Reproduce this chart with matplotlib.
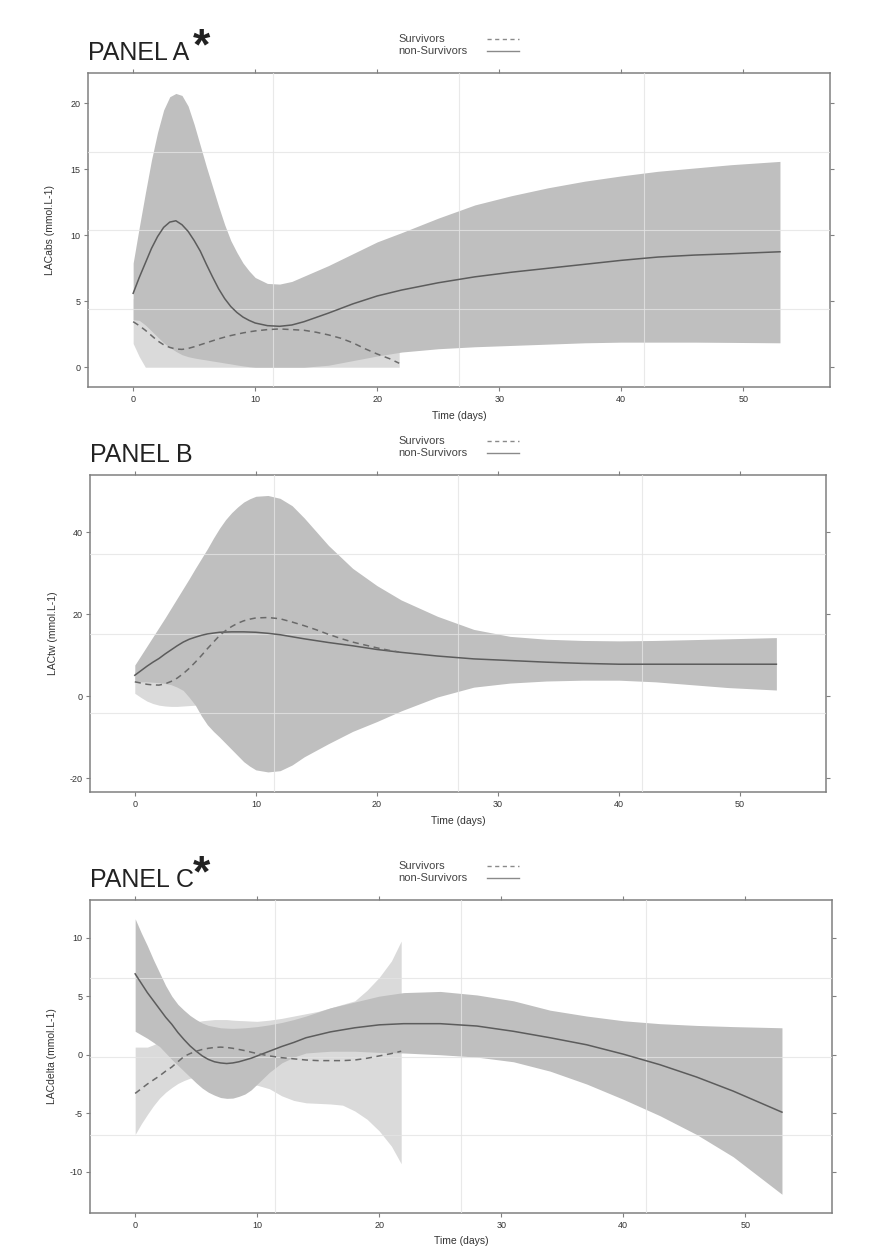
import matplotlib
matplotlib.use('Agg')
import matplotlib.pyplot as plt
from matplotlib.lines import Line2D

plt.rcParams['font.family'] = ['Liberation Sans', 'DejaVu Sans']
plt.rcParams['axes.unicode_minus'] = False

# ---- data ----
days_ns = [0, 0.5, 1, 1.5, 2, 2.5, 3, 3.5, 4, 4.5, 5, 5.5, 6, 6.5, 7, 7.5, 8, 8.5, 9, 9.5, 10,
           11, 12, 13, 14, 16, 18, 20, 22, 25, 28, 31, 34, 37, 40, 43, 46, 49, 53]
days_s = [0, 0.5, 1, 1.5, 2, 2.5, 3, 3.5, 4, 4.5, 5, 5.5, 6, 6.5, 7, 7.5, 8, 8.5, 9, 9.5, 10,
          11, 12, 13, 14, 15, 16, 17, 18, 19, 20, 21, 21.8]

# panel A : LACabs
a_ns_mean = [5.6, 6.8, 7.9, 9.0, 9.9, 10.6, 11.0, 11.1, 10.8, 10.3, 9.6, 8.8, 7.8, 6.85, 5.95,
             5.2, 4.6, 4.15, 3.8, 3.55, 3.35,
             3.15, 3.1, 3.2, 3.45, 4.1, 4.8, 5.4, 5.85, 6.4, 6.85, 7.2, 7.5, 7.8, 8.1, 8.35, 8.5,
             8.6, 8.75]
a_ns_up = [7.9, 10.6, 13.2, 15.7, 17.8, 19.5, 20.5, 20.75, 20.6, 19.8, 18.4, 16.8, 15.2, 13.7,
           12.2, 10.8, 9.6, 8.7, 7.9, 7.3, 6.8,
           6.35, 6.3, 6.5, 6.9, 7.7, 8.6, 9.5, 10.2, 11.3, 12.3, 13.0, 13.6, 14.1, 14.5, 14.85,
           15.1, 15.35, 15.6]
a_ns_lo = [3.6, 3.55, 3.2, 2.75, 2.3, 1.85, 1.5, 1.2, 0.95, 0.8, 0.7, 0.62, 0.55, 0.47, 0.4,
           0.32, 0.25, 0.17, 0.1, 0.04, 0.0,
           0.0, 0.0, 0.0, 0.0, 0.15, 0.5, 0.85, 1.15, 1.4, 1.55, 1.65, 1.75, 1.85, 1.9, 1.9,
           1.9, 1.88, 1.85]
a_s_mean = [3.45, 3.15, 2.8, 2.4, 2.0, 1.7, 1.5, 1.38, 1.35, 1.42, 1.55, 1.7, 1.85, 2.0, 2.15,
            2.28, 2.4, 2.5, 2.6, 2.68, 2.75,
            2.85, 2.9, 2.85, 2.8, 2.65, 2.45, 2.2, 1.85, 1.4, 1.0, 0.65, 0.3]
a_s_up = [5.2, 5.0, 4.8, 4.55, 4.3, 4.15, 4.0, 3.9, 3.8, 3.85, 3.9, 4.05, 4.2, 4.35, 4.5, 4.65,
          4.8, 4.9, 5.0, 5.1, 5.2,
          5.3, 5.4, 5.4, 5.3, 5.2, 5.0, 4.8, 4.5, 4.2, 3.8, 3.4, 3.0]
a_s_lo = [1.8, 0.8, 0.0, 0.0, 0.0, 0.0, 0.0, 0.0, 0.0, 0.0, 0.0, 0.0, 0.0, 0.0, 0.0, 0.0,
          0.0, 0.0, 0.0, 0.0, 0.0,
          0.0, 0.0, 0.0, 0.0, 0.0, 0.0, 0.0, 0.0, 0.0, 0.0, 0.0, 0.0]

# panel B : LACtw
b_ns_mean = [5.1, 6.2, 7.3, 8.3, 9.2, 10.3, 11.3, 12.3, 13.2, 13.9, 14.4, 14.85, 15.2, 15.4,
             15.6, 15.65, 15.7, 15.7, 15.7, 15.65, 15.6,
             15.35, 15.0, 14.5, 14.0, 13.1, 12.3, 11.4, 10.7, 9.8, 9.1, 8.7, 8.3, 8.0, 7.8, 7.8,
             7.8, 7.8, 7.8]
b_ns_up = [7.6, 9.9, 12.2, 14.5, 16.8, 19.1, 21.5, 23.9, 26.3, 28.7, 31.2, 33.6, 36.0, 38.6,
           41.0, 43.1, 44.8, 46.2, 47.4, 48.2, 48.8,
           49.0, 48.3, 46.5, 43.5, 36.8, 31.2, 27.0, 23.5, 19.5, 16.3, 14.6, 13.9, 13.6, 13.5,
           13.6, 13.8, 14.0, 14.3]
b_ns_lo = [3.5, 3.5, 3.5, 3.4, 3.3, 3.1, 2.8, 2.2, 1.4, -0.3, -2.2, -4.8, -7.0, -8.6, -10.0,
           -11.5, -13.0, -14.5, -16.0, -17.1, -18.0,
           -18.5, -18.2, -16.8, -14.8, -11.6, -8.6, -6.2, -3.6, -0.2, 2.2, 3.2, 3.7, 3.9, 3.9,
           3.5, 2.8, 2.1, 1.5]
b_s_mean = [3.5, 3.2, 2.9, 2.75, 2.7, 3.0, 3.6, 4.4, 5.5, 6.8, 8.3, 9.9, 11.6, 13.2, 14.8,
            16.0, 17.0, 17.8, 18.4, 18.8, 19.1,
            19.2, 18.9, 18.1, 17.2, 16.2, 15.1, 14.1, 13.2, 12.5, 11.8, 11.2, 10.8]
b_s_up = [6.0, 6.2, 6.5, 7.2, 8.0, 9.4, 11.0, 13.0, 15.0, 17.0, 19.0, 21.5, 24.0, 26.0, 28.0,
          29.5, 31.0, 32.0, 33.0, 33.5, 34.0,
          34.0, 33.0, 31.0, 29.0, 27.0, 25.0, 23.0, 21.5, 20.0, 19.0, 18.0, 17.5]
b_s_lo = [0.7, -0.3, -1.2, -1.8, -2.2, -2.4, -2.5, -2.5, -2.4, -2.3, -2.2, -2.35, -2.5, -2.65,
          -2.8, -2.9, -3.0, -3.0, -3.0, -3.0, -3.0,
          -2.8, -2.5, -2.0, -1.5, -1.0, -0.5, 0.0, 0.5, 1.0, 1.5, 2.0, 2.3]

# panel C : LACdelta
c_ns_mean = [6.9, 6.1, 5.3, 4.6, 3.9, 3.2, 2.6, 1.9, 1.3, 0.75, 0.3, -0.1, -0.4, -0.6, -0.7,
             -0.75, -0.7, -0.6, -0.45, -0.3, -0.1,
             0.3, 0.7, 1.05, 1.45, 1.95, 2.3, 2.55, 2.65, 2.65, 2.45, 2.0, 1.45, 0.85, 0.05,
             -0.85, -1.9, -3.1, -4.9]
c_ns_up = [11.6, 10.4, 9.3, 8.1, 7.0, 5.9, 5.0, 4.3, 3.8, 3.35, 3.0, 2.7, 2.5, 2.4, 2.3,
           2.27, 2.25, 2.27, 2.3, 2.35, 2.4,
           2.55, 2.75, 3.0, 3.3, 4.0, 4.5, 5.0, 5.3, 5.4, 5.1, 4.6, 3.8, 3.3, 2.9, 2.65, 2.5,
           2.4, 2.3]
c_ns_lo = [2.0, 1.7, 1.4, 1.05, 0.7, 0.15, -0.4, -0.9, -1.4, -1.9, -2.4, -2.85, -3.2, -3.45,
           -3.65, -3.72, -3.7, -3.55, -3.35, -3.0, -2.5,
           -1.5, -0.7, -0.2, 0.15, 0.3, 0.3, 0.2, 0.15, 0.0, -0.2, -0.6, -1.4, -2.5, -3.8,
           -5.2, -6.8, -8.7, -11.9]
c_s_mean = [-3.3, -2.9, -2.5, -2.15, -1.8, -1.4, -1.05, -0.6, -0.15, 0.1, 0.3, 0.45, 0.55,
            0.62, 0.65, 0.62, 0.55, 0.45, 0.35, 0.22, 0.1,
            -0.1, -0.25, -0.35, -0.45, -0.5, -0.5, -0.5, -0.45, -0.3, -0.1, 0.1, 0.3]
c_s_up = [0.65, 0.65, 0.65, 0.85, 1.1, 1.4, 1.7, 2.0, 2.3, 2.55, 2.8, 2.9, 2.95, 3.0, 3.0,
          3.0, 2.95, 2.92, 2.9, 2.87, 2.85,
          2.95, 3.1, 3.3, 3.5, 3.7, 4.0, 4.3, 4.6, 5.5, 6.6, 8.0, 9.7]
c_s_lo = [-6.8, -5.9, -5.1, -4.35, -3.7, -3.2, -2.8, -2.45, -2.2, -2.0, -1.9, -1.95, -2.0,
          -2.1, -2.2, -2.3, -2.4, -2.45, -2.5, -2.55, -2.6,
          -2.9, -3.5, -3.9, -4.1, -4.15, -4.2, -4.3, -4.8, -5.5, -6.5, -7.8, -9.3]

panels = [
    ('PANEL A', True, 'LACabs (mmol.L-1)', (-1.5, 22.3), [0, 5, 10, 15, 20],
     a_ns_mean, a_ns_up, a_ns_lo, a_s_mean, a_s_up, a_s_lo),
    ('PANEL B', False, 'LACtw (mmol.L-1)', (-23.4, 54.0), [-20, 0, 20, 40],
     b_ns_mean, b_ns_up, b_ns_lo, b_s_mean, b_s_up, b_s_lo),
    ('PANEL C', True, 'LACdelta (mmol.L-1)', (-13.5, 13.2), [-10, -5, 0, 5, 10],
     c_ns_mean, c_ns_up, c_ns_lo, c_s_mean, c_s_up, c_s_lo),
]

# axes boxes in pixels: left, right, top, bottom (figure is 878 x 1250)
W, H = 878, 1250
boxes = [(88, 830, 73, 387), (90, 826, 475, 792), (90, 832, 900, 1213)]

DARK = '#bfbfbf'
LIGHT = '#dadada'
FRAME = '#808080'

fig = plt.figure(figsize=(W / 100, H / 100), dpi=100)

for (title, star, ylab, ylim, yt, nm, nu, nl, sm, su, sl), (l, r, t, b) in zip(panels, boxes):
    ax = fig.add_axes([l / W, 1 - b / H, (r - l) / W, (b - t) / H])
    ax.fill_between(days_s, sl, su, color=LIGHT, lw=0, zorder=1)
    ax.fill_between(days_ns, nl, nu, color=DARK, lw=0, zorder=2)
    # faint reference grid at quarter positions
    for f in (0.25, 0.5, 0.75):
        ax.plot([f, f], [0, 1], transform=ax.transAxes, color='#e4e4e4', lw=0.8, alpha=0.8, zorder=3)
        ax.plot([0, 1], [f, f], transform=ax.transAxes, color='#e4e4e4', lw=0.8, alpha=0.8, zorder=3)
    ax.plot(days_ns, nm, color='#5c5c5c', lw=1.1, zorder=5, solid_joinstyle='round')
    ax.plot(days_s, sm, color='#6a6a6a', lw=1.1, ls=(0, (4, 3)), zorder=5)

    ax.set_xlim(-3.7, 57.1)
    ax.set_ylim(*ylim)
    ax.set_xticks([0, 10, 20, 30, 40, 50])
    ax.set_yticks(yt)
    ax.tick_params(direction='out', length=3, width=0.8, color=FRAME, labelsize=6.5,
                   labelcolor='#333333', pad=2.5, top=True, right=True)
    for s in ax.spines.values():
        s.set_color(FRAME)
        s.set_linewidth(1.1)
    ax.set_ylabel(ylab, fontsize=7.5, color='#333333')
    ax.yaxis.set_label_coords(-0.044, 0.5)
    ax.set_xlabel('Time (days)', fontsize=7.5, color='#333333')
    ax.xaxis.set_label_coords(0.5, -0.075)

    # panel title and optional raised asterisk
    fig.text(l / W, 1 - (t - 13) / H, title, fontsize=18, color='#222222', va='baseline')
    if star:
        fig.text(193 / W, 1 - (t - 14) / H, '*', fontsize=32, fontweight='bold',
                 color='#222222', va='baseline')

    # legend: labels left, line samples right
    y1 = 1 - (t - 34) / H
    y2 = 1 - (t - 22) / H
    fig.text(398 / W, y1, 'Survivors', fontsize=8, color='#444444', va='center')
    fig.text(398 / W, y2, 'non-Survivors', fontsize=8, color='#444444', va='center')
    fig.add_artist(Line2D([487 / W, 519 / W], [y1, y1], color='#8a8a8a', lw=1.0,
                          ls=(0, (3, 2.5)), transform=fig.transFigure))
    fig.add_artist(Line2D([487 / W, 519 / W], [y2, y2], color='#8a8a8a', lw=1.0,
                          transform=fig.transFigure))

fig.savefig('out.png', dpi=100, facecolor='white')
